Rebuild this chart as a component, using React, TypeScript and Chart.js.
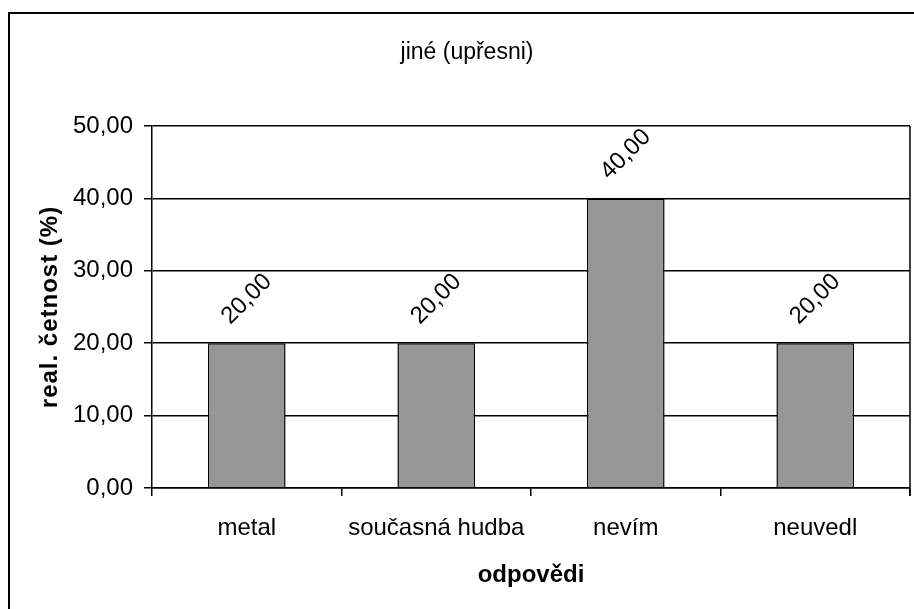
import React, { useEffect, useRef } from 'react';
import { Chart, registerables } from 'chart.js';

Chart.register(...registerables);

const categories = ['metal', 'současná hudba', 'nevím', 'neuvedl'];
const values = [20, 20, 40, 20];
const yMin = 0;
const yMax = 50;
const yStep = 10;
const chartTitle = 'jiné (upřesni)';
const xTitle = 'odpovědi';
const yTitle = 'real. četnost (%)';

const FONT = '"Liberation Sans", Arial, sans-serif';
const FS = 24;
const fmt = (v: number) => v.toFixed(2).replace('.', ',');

const decorPlugin = {
  id: 'decor',
  beforeDraw(chart: any) {
    const ctx = chart.ctx;
    ctx.save();
    ctx.fillStyle = '#fff';
    ctx.fillRect(0, 0, chart.width, chart.height);
    ctx.strokeStyle = '#000';
    ctx.lineWidth = 2;
    ctx.beginPath();
    ctx.moveTo(9, chart.height + 2);
    ctx.lineTo(9, 13);
    ctx.lineTo(chart.width + 2, 13);
    ctx.stroke();
    ctx.restore();
  },
  afterDraw(chart: any) {
    const ctx = chart.ctx;
    const ca = chart.chartArea;
    ctx.save();
    ctx.strokeStyle = '#000';
    ctx.lineWidth = 1.5;
    ctx.beginPath();
    ctx.moveTo(ca.right, ca.top);
    ctx.lineTo(ca.right, ca.bottom + 8);
    ctx.stroke();

    ctx.fillStyle = '#000';
    ctx.font = `${FS - 1}px ${FONT}`;
    ctx.textAlign = 'center';
    ctx.textBaseline = 'alphabetic';
    ctx.fillText(chartTitle, 467, 59);

    ctx.font = `bold ${FS}px ${FONT}`;
    ctx.fillText(xTitle, (ca.left + ca.right) / 2, 582);

    ctx.save();
    ctx.translate(57, (ca.top + ca.bottom) / 2);
    ctx.rotate(-Math.PI / 2);
    (ctx as any).letterSpacing = '1px';
    ctx.fillText(yTitle, 0, 0);
    ctx.restore();

    const meta = chart.getDatasetMeta(0);
    ctx.font = `${FS}px ${FONT}`;
    ctx.textBaseline = 'middle';
    meta.data.forEach((el: any, i: number) => {
      ctx.save();
      ctx.translate(el.x, el.y - 44);
      ctx.rotate(-Math.PI / 4);
      ctx.fillText(fmt(values[i]), 0, 0);
      ctx.restore();
    });
    ctx.restore();
  },
};

export default function App() {
  const ref = useRef<HTMLCanvasElement>(null);
  useEffect(() => {
    if (!ref.current) return;
    const chart = new Chart(ref.current, {
      type: 'bar',
      data: {
        labels: categories,
        datasets: [
          {
            data: values,
            backgroundColor: '#969696',
            borderColor: '#000',
            borderWidth: 1.5,
            categoryPercentage: 0.41,
            barPercentage: 1,
          },
        ],
      },
      options: {
        responsive: false,
        animation: false,
        layout: { padding: { top: 126, right: 4, bottom: 0, left: 0 } },
        plugins: {
          legend: { display: false },
          title: { display: false },
          tooltip: { enabled: false },
        },
        scales: {
          x: {
            type: 'category',
            offset: true,
            afterFit: (s: any) => {
              s.height = 121;
            },
            grid: {
              offset: true,
              drawOnChartArea: false,
              drawTicks: true,
              tickLength: 8,
              color: '#000',
              lineWidth: 1.5,
            },
            border: { display: true, color: '#000', width: 1.5 },
            ticks: {
              color: '#000',
              font: { family: FONT, size: FS },
              padding: 18,
              maxRotation: 0,
              autoSkip: false,
            },
          },
          y: {
            min: yMin,
            max: yMax,
            afterFit: (s: any) => {
              s.width = 152;
            },
            grid: {
              color: '#000',
              lineWidth: 1.5,
              drawTicks: true,
              tickLength: 8,
            },
            border: { display: true, color: '#000', width: 1.5 },
            ticks: {
              stepSize: yStep,
              color: '#000',
              font: { family: FONT, size: FS },
              padding: 11,
              callback: (v: any) => fmt(Number(v)),
            },
          },
        },
      },
      plugins: [decorPlugin],
    });
    return () => chart.destroy();
  }, []);
  return (
    <div style={{ position: 'absolute', left: 0, top: 0, width: 914, height: 609 }}>
      <canvas ref={ref} width={914} height={609} style={{ width: 914, height: 609, display: 'block' }} />
    </div>
  );
}
